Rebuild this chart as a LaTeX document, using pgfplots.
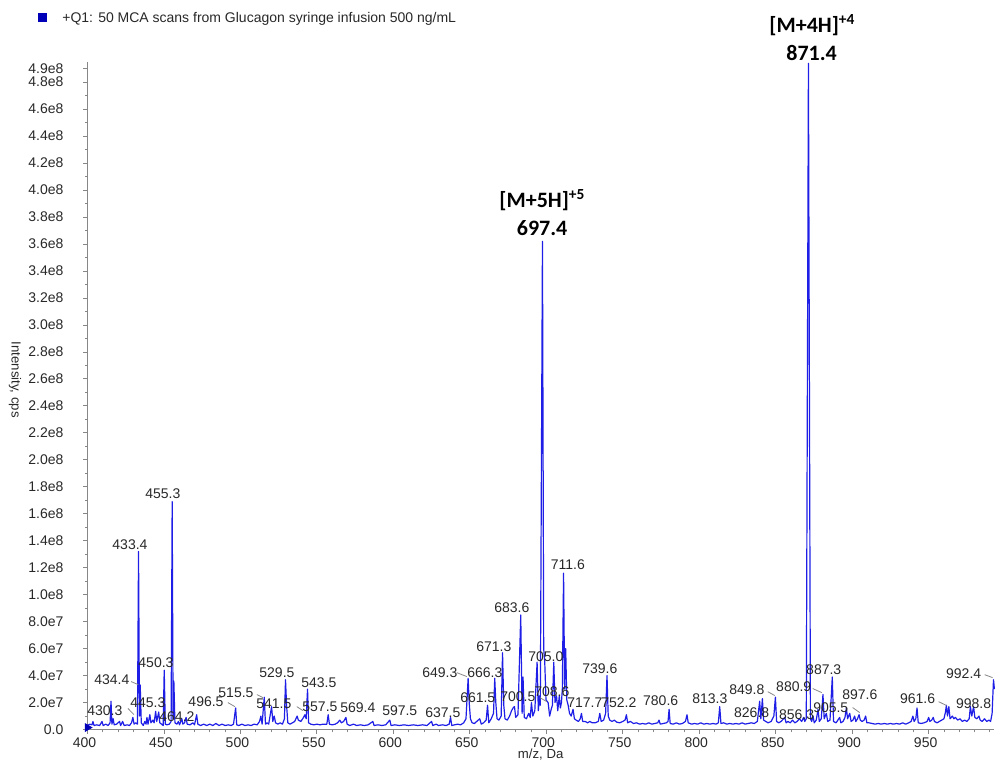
\documentclass[border=0pt]{standalone}
\usepackage{pgfplots}
\pgfplotsset{compat=1.18}
\usepackage{fontspec}
\setmainfont{Liberation Sans}
\newfontfamily\calib{Carlito}
\definecolor{spec}{RGB}{30,30,230}
\definecolor{axgray}{RGB}{135,135,135}
\definecolor{lbl}{RGB}{40,40,40}
\definecolor{legblue}{RGB}{0,0,185}
\tikzset{
 lab/.style={font=\fontsize{7}{8}\selectfont, text=lbl, inner sep=0pt},
 ann/.style={font=\calib\bfseries\fontsize{11}{13}\selectfont, text=black, inner sep=0pt},
}
\begin{document}
\begin{tikzpicture}
\begin{axis}[
 scale only axis, width=453.75pt, height=334pt,
 xmin=400, xmax=993, ymin=0, ymax=495,
 clip=false,
 axis x line*=bottom, axis y line*=left,
 axis line style={axgray, line width=0.5pt, -},
 tick align=outside, major tick length=2pt, minor tick length=1.3pt,
 tick style={axgray, line width=0.4pt},
 xtick={400,450,500,550,600,650,700,750,800,850,900,950},
 minor xtick={410,420,430,440,460,470,480,490,510,520,530,540,560,570,580,590,610,620,630,640,660,670,680,690,710,720,730,740,760,770,780,790,810,820,830,840,860,870,880,890,910,920,930,940,960,970,980,990},
 ytick={0,20,40,60,80,100,120,140,160,180,200,220,240,260,280,300,320,340,360,380,400,420,440,460,480,490},
 minor ytick={10,30,50,70,90,110,130,150,170,190,210,230,250,270,290,310,330,350,370,390,410,430,450,470},
 yticklabels={0.0,2.0e7,4.0e7,6.0e7,8.0e7,1.0e8,1.2e8,1.4e8,1.6e8,1.8e8,2.0e8,2.2e8,2.4e8,2.6e8,2.8e8,3.0e8,3.2e8,3.4e8,3.6e8,3.8e8,4.0e8,4.2e8,4.4e8,4.6e8,4.8e8,4.9e8},
 ticklabel style={font=\fontsize{7}{8}\selectfont, text=lbl},
 yticklabel style={xshift=-6.5pt},
 xticklabel style={xshift=-1.5pt, yshift=1.5pt},
 /pgf/number format/assume math mode=true,
 /pgf/number format/set thousands separator={},
]
\addplot[spec, line width=0.6pt, line join=round] coordinates {
(400,3)(401.5,4)(403,3.5)(403.6,6)(404.3,3)(406,3.5)(408,3)(409.5,6)(410.3,3)(412,4)(413.5,3)(414.8,5)(415.4,21)(416.0,4)(416.8,8)(417.5,3.5)(419,4)(421,6)(421.7,3)(423,6)(424,3)(426,3.5)(427.5,3)(428.8,5)(429.7,9)(430.5,4)(431.5,5)(432.7,4)(433.4,132)(434.0,10)(434.5,33)(435.2,5)(436.5,3)(437.5,6)(438.3,4)(438.9,9)(439.6,4)(440.8,11)(441.5,5)(442.8,7)(443.6,5)(444.6,13.5)(445.3,6)(446.6,13)(447.3,5)(448.5,4)(449.5,3)(450.2,44)(450.9,4)(452,3.5)(453.5,4)(454.7,6)(455.4,169)(456.0,8)(456.5,36)(457.2,5)(458.5,4)(459.5,6)(460.2,3.5)(461.7,8)(462.4,4)(463.5,5)(464.5,9)(465.2,4)(467,3.5)(469,5)(470,3.5)(471.4,11)(472.2,4)(474,3)(476,4)(478,3)(480,4)(482,3)(484,4.5)(486,3)(488,4)(490,3)(492,3.5)(494,3)(495.5,4)(496.9,16)(497.6,3.5)(499,3)(501,4)(503,3)(505,3.5)(507,3)(509,4)(511,3.5)(512.5,6)(513.4,10)(514.2,4)(515.6,24)(516.4,4)(517.5,5)(518.5,4)(520.4,17)(521.2,6)(522.1,10)(523,5)(524.5,4)(526,5)(527.5,4)(528.8,8)(529.5,37)(530.2,18)(531,5)(532.5,4)(534,5)(535.5,6)(537.1,10)(537.9,7)(539.5,6)(541.3,9)(542.2,11)(543.0,8)(543.9,30)(544.6,5)(546,4)(548,3.5)(550,4)(552,3.5)(554,4)(556.5,4)(557.4,11)(558.2,4)(560,3.5)(562,4)(563.5,5)(565,7)(566,5)(567.5,6)(569,9)(569.8,4)(571.5,3)(574,4)(576,3)(578.5,3.5)(581,3)(583.5,3.5)(586.6,6)(587.4,3)(590,3.5)(592.5,3)(595,3.5)(597.7,7)(598.5,3)(601,3.5)(604,3)(607,3.5)(610,3)(613,3.5)(616,3)(619,3.5)(622,3)(625,6)(625.8,3)(628,4)(629.5,3)(632,3.5)(634.5,3)(636.5,4)(637.4,9)(638.2,3)(640,3.5)(642,4)(644,3.5)(646,5)(647.5,8)(648.9,38)(649.6,20)(650.4,8)(651.5,5)(653,4.5)(654.5,6)(656.5,8)(657.5,4)(659,5)(660.7,7)(661.6,18)(662.4,5)(664,8)(665.5,12)(666.3,38)(667,20)(667.8,8)(669,7)(670.5,10)(671.4,57)(672.2,18)(673,8)(674.5,7)(676,10)(677.3,14)(678.3,16)(679.2,17)(680,9)(681.5,11)(683.3,85)(684.2,12)(684.8,39)(685.6,9)(687,8)(688.5,12)(689.5,9)(690.3,20)(691.2,10)(692.5,14)(694,50)(694.8,14)(695.6,25)(696.1,18)(697.5,362)(698.3,60)(699.0,50)(699.8,22)(701.2,20)(702.2,10)(703.2,15)(704,18)(704.9,50)(705.7,20)(706.7,25)(707.5,14)(708.5,25)(709.2,16)(709.9,20)(710.5,30)(711.3,116)(712.0,30)(712.7,60)(713.4,22)(714.3,18)(715.2,12)(716.3,10)(717.5,15)(718.4,8)(719.5,7)(721,6)(722.2,8)(723,12)(723.8,6)(725.5,6)(727,5)(728.5,6)(730,5)(732,5)(734,6)(735,12)(735.9,6)(737.5,7)(738.8,12)(739.7,40)(740.5,10)(741.5,7)(743,6)(744.5,7)(746,5.5)(748,5)(750,6)(751.5,7)(752.4,11)(753.2,5)(755,6)(757,4.5)(759,5)(761,4)(763,4.5)(765,4)(767,5)(769,4)(771,4.5)(772.9,5)(773.7,7)(774.5,4)(776.5,4.5)(778.5,5)(779.6,6)(780.3,15)(781,4.5)(783,4)(785,5)(787,4)(789,4.5)(791,6)(792,11)(792.8,5)(795,4)(797,4.5)(799,4)(801,5)(803,4)(805,4.5)(807,4)(809,4.5)(811,4)(812.5,5)(813.4,17)(814.2,4.5)(816,5)(818,4)(820,4.5)(822,4)(824,4.5)(826,4)(828,5)(830,4)(832,4.5)(834,5)(836,4.5)(838,6)(839.5,21)(840.3,8)(841.3,23)(842.1,7)(843.5,6)(845,5)(847,6)(848.8,10)(849.8,24)(850.6,6)(852,5)(853.5,6)(855.9,9)(856.8,5)(858,6)(859.5,5)(861,7)(862.5,5)(864,6)(865.5,8)(867,6)(868.3,9)(869,6)(870.0,8)(871.4,494)(872.7,8)(873.5,6)(874.4,10)(875.2,5)(876.5,7)(877.7,15)(878.5,6)(879.8,8)(880.9,26)(881.7,8)(883.1,12)(884,6)(885.5,7)(887.0,39)(887.8,6)(889.5,5)(891.8,9)(892.6,5)(894,6)(895.3,9)(896.2,16)(897,8)(898.4,12)(899.3,6)(900.5,7)(901.6,10)(902.4,6)(903.5,8)(904.5,11)(905.3,7)(906.5,6)(907.8,7)(908.8,10)(909.6,5)(911,5)(913,4.5)(915,4)(917,4.5)(919,4)(921,4.5)(923,4)(925,4.5)(927,4)(929,4.5)(931,4)(933,5)(935,4)(937,5)(938.5,6)(939.7,10)(940.5,6)(941.6,8)(942.4,16)(943.2,5)(945,4.5)(947,5)(949,6)(950,9)(950.8,6)(952,7)(953,9)(953.8,6)(955.5,5)(957,6)(958.5,7)(960,8)(961.0,13)(961.6,18)(962.3,10)(963.2,17)(964,8)(965.5,10)(966.5,8)(967.5,9)(969,7)(970.5,8)(972,6)(973.5,7)(975,6)(976.5,8)(977.3,17)(978.2,10)(979.4,17)(980.2,9)(981.5,8)(982.9,10)(983.7,7)(985,6)(986.5,8)(988,6)(989.5,7)(990.5,6)(991.5,12)(992.4,37)(993,30)
};
\addplot[only marks, mark=triangle*, mark size=2.2pt, color=legblue, mark options={rotate=-90}] coordinates {(400,1.5)};
% peak labels
\node[lab] at (axis cs:411.4,14.1) {430.3};
\node[lab] at (axis cs:416.0,37.0) {434.4};
\node[lab] at (axis cs:427.8,137.0) {433.4};
\node[lab] at (axis cs:439.5,20.0) {445.3};
\node[lab] at (axis cs:444.8,49.6) {450.3};
\node[lab] at (axis cs:449.3,174.8) {455.3};
\node[lab] at (axis cs:458.5,9.6) {464.2};
\node[lab] at (axis cs:477.5,20.7) {496.5};
\node[lab] at (axis cs:497.1,27.4) {515.5};
\node[lab] at (axis cs:523.9,42.2) {529.5};
\node[lab] at (axis cs:521.9,19.3) {541.5};
\node[lab] at (axis cs:551.3,34.8) {543.5};
\node[lab] at (axis cs:552.0,17.0) {557.5};
\node[lab] at (axis cs:576.8,16.3) {569.4};
\node[lab] at (axis cs:604.2,14.1) {597.5};
\node[lab] at (axis cs:632.4,12.6) {637.5};
\node[lab] at (axis cs:630.4,42.2) {649.3};
\node[lab] at (axis cs:659.8,42.2) {666.3};
\node[lab] at (axis cs:655.2,23.7) {661.5};
\node[lab] at (axis cs:665.7,61.5) {671.3};
\node[lab] at (axis cs:677.5,90.4) {683.6};
\node[lab] at (axis cs:681.4,24.4) {700.5};
\node[lab] at (axis cs:699.7,54.1) {705.0};
\node[lab] at (axis cs:703.6,28.1) {708.6};
\node[lab] at (axis cs:714.1,122.2) {711.6};
\node[lab] at (axis cs:725.2,20.0) {717.7};
\node[lab] at (axis cs:735.0,45.2) {739.6};
\node[lab] at (axis cs:747.4,20.0) {752.2};
\node[lab] at (axis cs:774.8,21.5) {780.6};
\node[lab] at (axis cs:806.9,23.0) {813.3};
\node[lab] at (axis cs:834.3,12.6) {826.8};
\node[lab] at (axis cs:831.1,29.6) {849.8};
\node[lab] at (axis cs:863.7,11.1) {856.3};
\node[lab] at (axis cs:861.8,31.9) {880.9};
\node[lab] at (axis cs:881.4,44.4) {887.3};
\node[lab] at (axis cs:886.0,16.3) {905.5};
\node[lab] at (axis cs:905.0,25.9) {897.6};
\node[lab] at (axis cs:942.8,23.0) {961.6};
\node[lab] at (axis cs:979.4,19.3) {998.8};
\node[lab] at (axis cs:972.9,41.5) {992.4};
% leader lines
\draw[axgray, line width=0.4pt] (axis cs:426.5,15.6) -- (axis cs:430.4,11.1);
\draw[axgray, line width=0.4pt] (axis cs:428.5,35.6) -- (axis cs:433.2,33.3);
\draw[axgray, line width=0.4pt] (axis cs:491.8,20) -- (axis cs:496.4,17);
\draw[axgray, line width=0.4pt] (axis cs:510.8,25.9) -- (axis cs:514.7,23.7);
\draw[axgray, line width=0.4pt] (axis cs:536.9,17) -- (axis cs:540.8,14.1);
\draw[axgray, line width=0.4pt] (axis cs:641.5,42.2) -- (axis cs:648,39.3);
\draw[axgray, line width=0.4pt] (axis cs:695.8,23.7) -- (axis cs:700.3,20.7);
\draw[axgray, line width=0.4pt] (axis cs:844.8,28.1) -- (axis cs:849.4,25.2);
\draw[axgray, line width=0.4pt] (axis cs:874.2,30.4) -- (axis cs:880.1,27.4);
\draw[axgray, line width=0.4pt] (axis cs:900.3,16.3) -- (axis cs:904.9,12.6);
\draw[axgray, line width=0.4pt] (axis cs:956.5,20.7) -- (axis cs:961.7,17.8);
\draw[axgray, line width=0.4pt] (axis cs:986.6,40.7) -- (axis cs:991.8,38.5);
% annotations
\node[ann] at (axis cs:874,522.4) {[M+4H]\textsuperscript{+4}};
\node[ann] at (axis cs:873.5,501.6) {871.4};
\node[ann] at (axis cs:697.5,392.7) {[M+5H]\textsuperscript{+5}};
\node[ann] at (axis cs:697.3,372) {697.4};
\end{axis}
% title, axis labels
\fill[legblue] (-24.75pt,354pt) rectangle (-20.25pt,358.5pt);
\node[anchor=west, inner sep=0pt, font=\fontsize{7}{8}\selectfont, text=lbl] at (-12.75pt,355.5pt) {+Q1: 50 MCA scans from Glucagon syringe infusion 500 ng/mL};
\node[rotate=-90, inner sep=0pt, font=\fontsize{6.6}{8}\selectfont, text=lbl] at (-36.25pt,175pt) {Intensity, cps};
\node[inner sep=0pt, font=\fontsize{6.6}{8}\selectfont, text=lbl] at (226.75pt,-12.3pt) {m/z, Da};
\path[use as bounding box] (-43.75pt,-15pt) rectangle (453.75pt,365pt);
\end{tikzpicture}
\end{document}
